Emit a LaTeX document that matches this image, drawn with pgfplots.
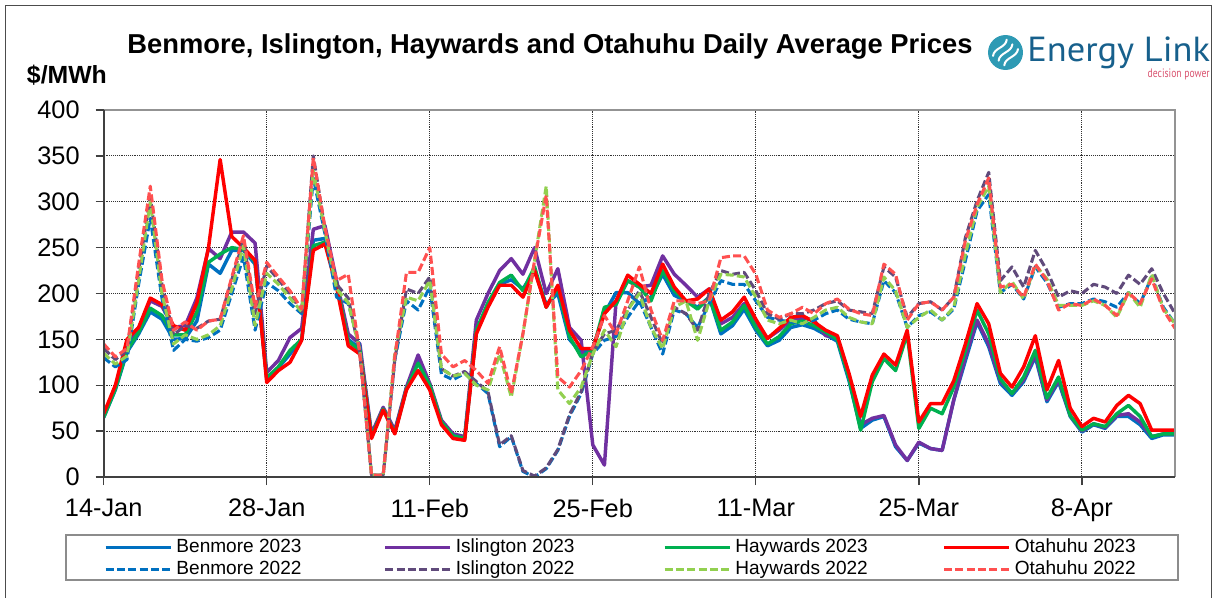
\documentclass[border=0pt]{standalone}
\usepackage{fontspec}
\setmainfont{Liberation Sans}
\newfontfamily\logofont{PT Sans}
\usepackage{pgfplots}
\pgfplotsset{compat=1.18}
\definecolor{cBen}{HTML}{0070C0}
\definecolor{cIsl}{HTML}{7030A0}
\definecolor{cHay}{HTML}{00B050}
\definecolor{cOta}{HTML}{FF0000}
\definecolor{cBenB}{HTML}{0070C0}
\definecolor{cIslB}{HTML}{604A7B}
\definecolor{cHayB}{HTML}{92D050}
\definecolor{cOtaB}{HTML}{FF5050}
\definecolor{logoTeal}{HTML}{2E9AB4}
\definecolor{logoBlue}{HTML}{17608C}
\definecolor{logoRed}{HTML}{D9536F}
\newcommand\PX[2]{({(#1)*0.75pt},{(597-(#2))*0.75pt})}
\newcommand\LE[1]{\makebox[123.75pt][l]{#1}}
\begin{document}
\begin{tikzpicture}
\useasboundingbox (0,0) rectangle (912.75pt,447.75pt);
\draw[black!70, line width=0.8pt] \PX{5.5}{605} -- \PX{5.5}{5.5} -- \PX{1211.5}{5.5} -- \PX{1211.5}{605};
\begin{axis}[
  at={(77.775pt,90pt)}, anchor=south west,
  scale only axis, width=803.5pt, height=275.25pt,
  xmin=0, xmax=92, ymin=0, ymax=400,
  xtick={0,14,...,84},
  xticklabels={14-Jan,28-Jan,11-Feb,25-Feb,11-Mar,25-Mar,8-Apr},
  ytick={0,50,...,400},
  grid=major,
  major grid style={densely dotted, black!80, line width=0.8pt},
  tick pos=left, tick align=outside, major tick length=6pt,
  tick style={black!75, line width=1pt},
  axis line style={draw=none},
  ticklabel style={font=\fontsize{19}{22}\selectfont},
  yticklabel style={xshift=-8.5pt},
  xticklabel style={yshift=-7pt},
  /pgf/number format/assume math mode=true,
  every axis plot/.append style={mark=none, line join=round},
  legend columns=4,
  legend image code/.code={\draw[#1] (0pt,0pt) -- (48.75pt,0pt);},
  legend style={draw=none, fill=none, at={(0,-0.167)}, anchor=north west,
    inner sep=0pt, row sep=3pt,
    nodes={inner sep=0pt, text height=10.5pt, text depth=3pt, font=\fontsize{14.3}{16}\selectfont},
    /tikz/every odd column/.append style={column sep=3pt},
    /tikz/every even column/.append style={column sep=31.5pt}},
  after end axis/.code={
    \draw[gray!85, line width=1.5pt] (rel axis cs:0,1) -- (rel axis cs:1,1) -- (rel axis cs:1,0);
    \draw[black!75, line width=1.7pt] (rel axis cs:0,1) -- (rel axis cs:0,0) -- (rel axis cs:1,0);
  },
]
% ---- 2023 ----
\addplot[cBen, line width=2.6pt] coordinates {
(0,65)(1,95)(2,136)(3,156)(4,180)(5,172)(6,150)(7,151)(8,170)(9,232)(10,222)(11,247)(12,247)(13,232)(14,107)
(15,119)(16,134)(17,150)(18,258)(19,260)(20,212)(21,150)(22,140)(23,44)(24,75)(25,49)(26,97)(27,128)(28,100)(29,60)(30,45)
(31,42)(32,158)(33,188)(34,210)(35,215)(36,205)(37,225)(38,188)(39,200)(40,150)(41,135)(42,140)(43,178)(44,201)
(45,201)(46,189)(47,196)(48,221)(49,198)(50,192)(51,185)(52,196)(53,156)(54,165)(55,183)(56,160)(57,143)(58,149)(59,163)
(60,166)(61,162)(62,155)(63,148)(64,105)(65,53)(66,62)(67,66)(68,33)(69,18)(70,37)(71,31)(72,29)(73,84)(74,127)(75,169)(76,142)
(77,102)(78,89)(79,104)(80,131)(81,82)(82,104)(83,66)(84,49)(85,57)(86,53)(87,66)(88,66)(89,57)(90,42)(91,46)(92,46)};
\addlegendentry{\LE{Benmore 2023}}
\addplot[cIsl, line width=2.6pt] coordinates {
(0,68)(1,97)(2,145)(3,162)(4,192)(5,186)(6,163)(7,165)(8,195)(9,249)(10,238)(11,267)(12,267)(13,255)(14,114)
(15,127)(16,152)(17,162)(18,270)(19,274)(20,214)(21,156)(22,145)(23,47)(24,76)(25,51)(26,98)(27,133)(28,102)(29,62)(30,47)
(31,44)(32,171)(33,200)(34,225)(35,238)(36,221)(37,250)(38,200)(39,227)(40,163)(41,149)(42,35)(43,13)(44,192)
(45,214)(46,207)(47,209)(48,241)(49,221)(50,209)(51,196)(52,205)(53,167)(54,174)(55,189)(56,169)(57,151)(58,160)(59,171)
(60,173)(61,171)(62,154)(63,153)(64,110)(65,57)(66,64)(67,67)(68,35)(69,18)(70,38)(71,31)(72,29)(73,84)(74,131)(75,171)(76,145)
(77,105)(78,91)(79,106)(80,133)(81,84)(82,106)(83,67)(84,50)(85,58)(86,54)(87,67)(88,69)(89,60)(90,44)(91,47)(92,47)};
\addlegendentry{\LE{Islington 2023}}
\addplot[cHay, line width=2.6pt] coordinates {
(0,65)(1,96)(2,138)(3,158)(4,184)(5,176)(6,155)(7,155)(8,180)(9,234)(10,243)(11,250)(12,248)(13,235)(14,108)
(15,120)(16,138)(17,150)(18,252)(19,256)(20,210)(21,148)(22,138)(23,44)(24,74)(25,48)(26,96)(27,124)(28,100)(29,60)(30,45)
(31,42)(32,160)(33,190)(34,212)(35,220)(36,203)(37,229)(38,185)(39,207)(40,153)(41,131)(42,138)(43,185)(44,188)
(45,214)(46,207)(47,192)(48,225)(49,203)(50,192)(51,183)(52,196)(53,160)(54,169)(55,187)(56,163)(57,145)(58,153)(59,167)
(60,170)(61,165)(62,158)(63,150)(64,108)(65,51)(66,104)(67,129)(68,116)(69,156)(70,53)(71,75)(72,69)(73,98)(74,138)(75,182)(76,156)
(77,107)(78,91)(79,109)(80,138)(81,86)(82,109)(83,67)(84,51)(85,58)(86,55)(87,69)(88,78)(89,66)(90,44)(91,47)(92,47)};
\addlegendentry{\LE{Haywards 2023}}
\addplot[cOta, line width=2.6pt] coordinates {
(0,69)(1,100)(2,150)(3,163)(4,195)(5,188)(6,165)(7,160)(8,190)(9,250)(10,346)(11,262)(12,250)(13,236)(14,103)
(15,116)(16,125)(17,149)(18,247)(19,254)(20,207)(21,143)(22,134)(23,42)(24,73)(25,47)(26,95)(27,116)(28,95)(29,57)(30,42)
(31,40)(32,156)(33,185)(34,209)(35,209)(36,196)(37,225)(38,185)(39,209)(40,160)(41,140)(42,140)(43,178)(44,192)
(45,220)(46,210)(47,200)(48,232)(49,207)(50,192)(51,194)(52,205)(53,171)(54,180)(55,196)(56,172)(57,151)(58,162)(59,174)
(60,176)(61,169)(62,160)(63,154)(64,113)(65,66)(66,111)(67,134)(68,122)(69,160)(70,60)(71,80)(72,80)(73,105)(74,145)(75,189)(76,167)
(77,113)(78,98)(79,120)(80,154)(81,95)(82,127)(83,75)(84,55)(85,64)(86,60)(87,78)(88,89)(89,80)(90,51)(91,51)(92,51)};
\addlegendentry{\LE{Otahuhu 2023}}
% ---- 2022 ----
\addplot[cBenB, line width=2.3pt, dash pattern=on 6pt off 2.5pt] coordinates {
(0,130)(1,120)(2,128)(3,210)(4,282)(5,195)(6,138)(7,150)(8,148)(9,152)(10,160)(11,200)(12,240)(13,160)(14,212)
(15,203)(16,189)(17,178)(18,326)(19,265)(20,196)(21,189)(22,142)(23,2)(24,2)(25,128)(26,192)(27,182)(28,207)(29,112)(30,106)
(31,113)(32,102)(33,91)(34,33)(35,44)(36,6)(37,0)(38,9)(39,29)(40,66)(41,91)(42,134)(43,149)(44,153)
(45,174)(46,192)(47,163)(48,134)(49,182)(50,178)(51,163)(52,189)(53,214)(54,210)(55,210)(56,192)(57,174)(58,171)(59,169)
(60,167)(61,171)(62,178)(63,182)(64,172)(65,169)(66,167)(67,214)(68,201)(69,163)(70,176)(71,180)(72,171)(73,183)(74,236)(75,290)(76,308)
(77,201)(78,210)(79,194)(80,229)(81,212)(82,185)(83,189)(84,189)(85,194)(86,191)(87,185)(88,201)(89,189)(90,218)(91,185)(92,167)};
\addlegendentry{\LE{Benmore 2022}}
\addplot[cIslB, line width=2.3pt, dash pattern=on 6pt off 2.5pt] coordinates {
(0,140)(1,128)(2,138)(3,225)(4,305)(5,210)(6,155)(7,165)(8,162)(9,170)(10,172)(11,215)(12,258)(13,178)(14,230)
(15,215)(16,200)(17,180)(18,350)(19,270)(20,210)(21,195)(22,134)(23,2)(24,2)(25,128)(26,205)(27,200)(28,218)(29,118)(30,110)
(31,115)(32,104)(33,93)(34,35)(35,45)(36,7)(37,1)(38,10)(39,30)(40,68)(41,93)(42,136)(43,156)(44,160)
(45,182)(46,203)(47,174)(48,145)(49,185)(50,178)(51,160)(52,200)(53,225)(54,221)(55,223)(56,203)(57,178)(58,172)(59,178)
(60,178)(61,182)(62,189)(63,192)(64,182)(65,180)(66,178)(67,229)(68,218)(69,174)(70,189)(71,191)(72,182)(73,196)(74,261)(75,301)(76,332)
(77,214)(78,229)(79,207)(80,247)(81,225)(82,196)(83,203)(84,200)(85,210)(86,207)(87,200)(88,220)(89,210)(90,227)(91,200)(92,178)};
\addlegendentry{\LE{Islington 2022}}
\addplot[cHayB, line width=2.3pt, dash pattern=on 6pt off 2.5pt] coordinates {
(0,135)(1,123)(2,132)(3,215)(4,300)(5,200)(6,145)(7,155)(8,150)(9,155)(10,165)(11,205)(12,252)(13,165)(14,222)
(15,210)(16,195)(17,180)(18,334)(19,268)(20,205)(21,190)(22,138)(23,2)(24,2)(25,135)(26,196)(27,192)(28,214)(29,118)(30,110)
(31,113)(32,100)(33,95)(34,134)(35,87)(36,156)(37,236)(38,317)(39,95)(40,80)(41,98)(42,134)(43,160)(44,142)
(45,182)(46,200)(47,163)(48,140)(49,185)(50,192)(51,149)(52,192)(53,221)(54,220)(55,218)(56,196)(57,171)(58,167)(59,171)
(60,167)(61,174)(62,182)(63,185)(64,174)(65,169)(66,167)(67,218)(68,203)(69,163)(70,174)(71,182)(72,171)(73,185)(74,243)(75,294)(76,317)
(77,201)(78,213)(79,194)(80,231)(81,216)(82,187)(83,187)(84,187)(85,192)(86,187)(87,174)(88,201)(89,185)(90,221)(91,183)(92,167)};
\addlegendentry{\LE{Haywards 2022}}
\addplot[cOtaB, line width=2.3pt, dash pattern=on 6pt off 2.5pt] coordinates {
(0,145)(1,131)(2,140)(3,232)(4,317)(5,215)(6,160)(7,169)(8,160)(9,170)(10,172)(11,218)(12,263)(13,185)(14,234)
(15,218)(16,203)(17,183)(18,348)(19,272)(20,214)(21,221)(22,134)(23,2)(24,2)(25,131)(26,223)(27,223)(28,250)(29,134)(30,120)
(31,127)(32,116)(33,102)(34,142)(35,91)(36,156)(37,236)(38,307)(39,109)(40,98)(41,116)(42,142)(43,176)(44,156)
(45,192)(46,229)(47,182)(48,149)(49,192)(50,192)(51,189)(52,192)(53,239)(54,241)(55,241)(56,221)(57,182)(58,174)(59,178)
(60,185)(61,178)(62,189)(63,194)(64,183)(65,178)(66,176)(67,232)(68,221)(69,171)(70,189)(71,191)(72,182)(73,196)(74,258)(75,297)(76,326)
(77,207)(78,210)(79,196)(80,232)(81,214)(82,182)(83,189)(84,187)(85,194)(86,187)(87,176)(88,201)(89,189)(90,216)(91,182)(92,162)};
\addlegendentry{\LE{Otahuhu 2022}}
\end{axis}
% legend frame
\draw[gray!90, line width=1.2pt] \PX{65.7}{535} rectangle \PX{1178}{580};
% title and unit
\node[anchor=base, inner sep=0pt, font=\bfseries\fontsize{20.5}{24}\selectfont] at \PX{550}{53.5}
  {Benmore, Islington, Haywards and Otahuhu Daily Average Prices};
\node[anchor=base west, inner sep=0pt, font=\bfseries\fontsize{18.6}{22}\selectfont] at \PX{26.7}{83.3} {\$/MWh};
% logo
\begin{scope}[shift={(754.125pt,408.375pt)}]
  \fill[logoTeal] (0pt,0pt) circle (13.1pt);
  \begin{scope}[rotate=50]
    \foreach \y in {-5.5,0,5.5}
      \draw[white, line width=1.5pt, line cap=round]
        ({-8pt},{\y*1pt}) .. controls ({-3pt},{(\y+3.5)*1pt}) and ({3pt},{(\y-3.5)*1pt}) .. ({8pt},{\y*1pt});
  \end{scope}
\end{scope}
\node[anchor=base west, inner sep=0pt, text=logoBlue] at \PX{1027}{62}
  {\resizebox{137pt}{18.5pt}{\logofont Energy Link}};
\node[anchor=base east, inner sep=0pt, text=logoRed] at \PX{1210}{78}
  {\resizebox{46.5pt}{6.5pt}{\logofont decision power}};
\end{tikzpicture}
\end{document}
